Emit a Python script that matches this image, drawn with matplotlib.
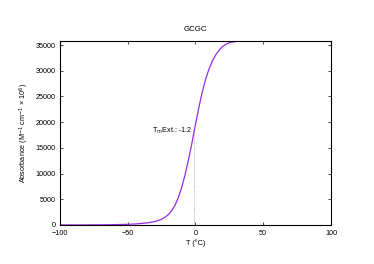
import matplotlib
matplotlib.use("Agg")
import matplotlib.pyplot as plt

plt.rcParams["font.family"] = ["Liberation Sans", "DejaVu Sans"]

# Melting curve
temps = [-100, -90, -80, -70, -60, -50, -45, -40, -35, -30, -27.5, -25, -22.5, -20,
         -17.5, -15, -12.5, -10, -7.5, -5, -2.5, -1.2, 0, 2.5, 5, 7.5, 10, 12.5,
         15, 17.5, 20, 22.5, 25, 30, 35, 40, 50, 60, 80, 100]
absorb = [0, 2, 6, 20, 50, 120, 180, 280, 420, 650, 850, 1100, 1500, 2000,
          2800, 3850, 5400, 7400, 9900, 12800, 16000, 17900, 19500, 22800, 25800, 28300, 30300, 31900,
          33100, 34000, 34700, 35150, 35450, 35700, 35780, 35800, 35800, 35800, 35800, 35800]
tm = -1.2
tm_abs = 17900

fig = plt.figure(figsize=(3.74, 2.64), dpi=100)
ax = fig.add_axes([0.160, 0.148, 0.725, 0.698])

ax.plot(temps, absorb, color="#9a2be2", lw=0.9)
ax.plot([tm, tm], [0, tm_abs], color="#999999", lw=0.6, ls=(0, (1, 1.5)))
ax.text(tm - 1.0, tm_abs + 400, "T$_m$Ext.: -1.2", fontsize=5.2, ha="right", va="center")

ax.set_xlim(-100, 100)
ax.set_ylim(0, 35850)
ax.set_xticks([-100, -50, 0, 50, 100])
ax.set_yticks(range(0, 35001, 5000))
ax.tick_params(direction="in", labelsize=5.2, length=2.5, width=0.5, top=True, right=True, pad=2)
ax.tick_params(axis="x", pad=3.5)
ax.tick_params(axis="y", pad=3)
for s in ax.spines.values():
    s.set_linewidth(0.8)

ax.set_title("GCGC", fontsize=5.7, pad=7)
ax.set_xlabel("T (°C)", fontsize=5.2, labelpad=2)
ax.set_ylabel("Absorbance (M$^{-1}$ cm$^{-1}$ × 10$^{6}$)", fontsize=5.2, labelpad=3)

fig.savefig("out.png", dpi=100)
